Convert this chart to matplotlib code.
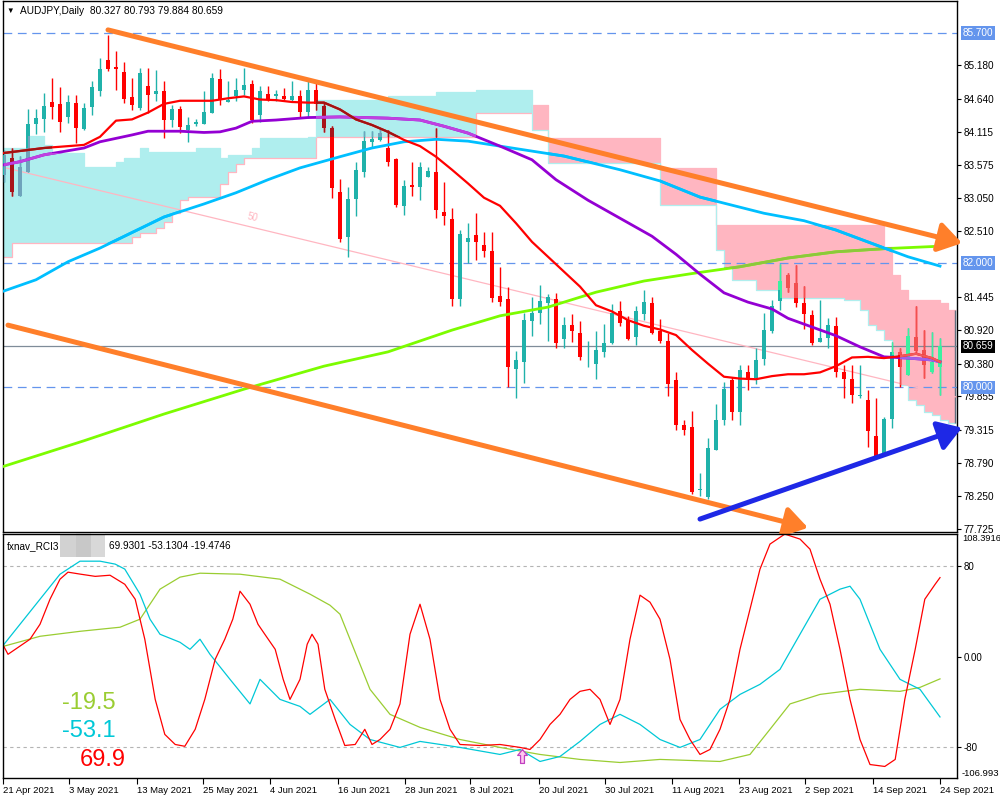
import numpy as np
import matplotlib
matplotlib.use("Agg")
import matplotlib.pyplot as plt
import matplotlib.transforms as mtransforms
from matplotlib.path import Path

plt.rcParams["font.family"] = ["Liberation Sans", "DejaVu Sans"]

# ---- daily AUDJPY candles ----
opens = [83.42, 83.69, 83.08, 83.47, 84.24, 84.31, 84.59, 84.56, 84.35, 84.57,
         84.16, 84.51, 84.77, 85.27, 85.15, 85.07, 84.67, 84.50, 84.85, 84.72,
         84.77, 84.30, 84.48, 84.14, 84.23, 84.24, 84.41, 84.96, 84.59, 84.68,
         84.78, 84.88, 84.38, 84.72, 84.69, 84.69, 84.62, 84.69, 84.43, 84.79,
         84.53, 84.17, 83.14, 82.42, 83.03, 83.47, 83.95, 83.98, 83.85, 83.67,
         82.92, 83.25, 83.23, 83.39, 83.46, 82.82, 82.71, 81.42, 82.33, 82.45,
         82.29, 82.19, 81.47, 81.42, 80.29, 80.41, 81.07, 81.19, 81.35, 81.42,
         80.77, 81.00, 80.88, 80.40, 80.38, 80.56, 80.72, 81.23, 81.09, 80.81,
         81.18, 81.36, 80.91, 80.75, 80.12, 79.39, 79.36, 78.35, 78.23, 78.99,
         79.47, 80.11, 79.61, 80.25, 80.15, 80.45, 80.91, 81.39, 81.81, 81.67,
         81.35, 81.16, 80.73, 80.80, 80.99, 80.25, 80.14, 79.86, 79.80, 79.22,
         78.95, 79.49, 80.57, 80.20, 80.81, 80.60, 80.25, 80.327]
highs = [83.82, 83.85, 83.72, 84.48, 84.48, 84.74, 84.98, 84.83, 84.71, 84.71,
         84.57, 84.92, 85.29, 85.67, 85.41, 85.23, 84.98, 85.14, 85.14, 85.11,
         84.93, 84.54, 84.53, 84.35, 84.32, 84.77, 85.05, 85.12, 84.92, 84.98,
         85.13, 84.94, 84.84, 84.84, 84.79, 84.82, 84.93, 84.79, 84.93, 84.89,
         84.58, 84.20, 83.35, 83.22, 83.63, 84.13, 84.13, 84.15, 84.14, 83.69,
         83.34, 83.62, 83.62, 83.55, 84.17, 83.31, 82.89, 82.53, 82.65, 82.80,
         82.50, 82.50, 81.94, 81.61, 80.58, 81.19, 81.45, 81.65, 81.50, 81.52,
         81.13, 81.18, 81.07, 80.74, 80.91, 81.02, 81.34, 81.39, 81.14, 81.31,
         81.57, 81.45, 81.10, 80.88, 80.24, 79.47, 79.62, 78.62, 79.18, 79.73,
         80.09, 80.17, 80.36, 80.36, 80.63, 81.20, 81.40, 81.99, 81.84, 81.97,
         81.63, 81.25, 81.40, 81.11, 81.13, 80.36, 80.36, 80.36, 79.96, 79.82,
         79.53, 80.73, 80.63, 80.96, 81.30, 80.92, 80.89, 80.793]
lows = [83.30, 83.07, 83.07, 83.46, 84.08, 84.10, 84.31, 84.10, 84.25, 83.93,
        84.14, 84.38, 84.69, 85.09, 84.78, 84.57, 84.46, 84.46, 84.42, 84.61,
        84.01, 84.19, 84.09, 83.94, 84.20, 84.24, 84.41, 84.54, 84.59, 84.60,
        84.70, 84.25, 84.27, 84.60, 84.60, 84.62, 84.60, 84.34, 84.34, 84.46,
        84.11, 83.04, 82.33, 82.10, 82.76, 83.39, 83.85, 83.96, 83.56, 82.90,
        82.77, 83.08, 83.01, 83.39, 82.73, 82.61, 81.30, 81.31, 82.00, 82.05,
        82.10, 81.38, 81.31, 80.01, 79.82, 80.07, 80.83, 81.02, 80.75, 80.63,
        80.63, 80.73, 80.44, 80.32, 80.14, 80.49, 80.70, 80.99, 80.76, 80.68,
        81.09, 80.86, 80.72, 79.86, 79.32, 79.23, 78.28, 78.25, 78.21, 78.99,
        79.39, 79.47, 79.39, 79.96, 80.06, 80.36, 80.87, 81.24, 81.54, 81.29,
        80.93, 80.68, 80.73, 80.63, 80.17, 79.82, 79.74, 79.82, 79.04, 78.88,
        78.94, 79.34, 80.01, 80.20, 80.55, 80.15, 80.23, 79.884]
closes = [83.74, 83.14, 83.55, 84.24, 84.33, 84.53, 84.51, 84.27, 84.59, 84.17,
          84.49, 84.83, 85.12, 85.12, 85.12, 84.64, 84.54, 85.06, 84.70, 84.77,
          84.30, 84.48, 84.19, 84.22, 84.27, 84.43, 84.98, 84.63, 84.63, 84.79,
          84.86, 84.30, 84.77, 84.62, 84.72, 84.64, 84.69, 84.43, 84.79, 84.56,
          84.17, 83.21, 82.39, 83.03, 83.50, 83.96, 83.99, 84.09, 83.63, 82.93,
          83.24, 83.23, 83.54, 83.48, 82.85, 82.75, 81.42, 82.47, 82.41, 82.33,
          82.20, 81.44, 81.38, 80.32, 80.44, 81.08, 81.19, 81.39, 81.45, 80.72,
          81.00, 80.91, 80.49, 80.41, 80.60, 80.72, 81.20, 81.04, 80.78, 81.23,
          81.37, 80.88, 80.75, 80.05, 79.39, 79.31, 78.31, 78.37, 79.02, 79.47,
          79.97, 79.61, 80.28, 80.12, 80.44, 80.92, 81.31, 81.71, 81.60, 81.36,
          81.18, 80.72, 80.79, 81.00, 80.24, 80.14, 79.88, 79.88, 79.29, 78.90,
          79.49, 80.57, 80.33, 80.83, 80.59, 80.36, 80.40, 80.659]

date_labels = ["21 Apr 2021", "3 May 2021", "13 May 2021", "25 May 2021", "4 Jun 2021",
               "16 Jun 2021", "28 Jun 2021", "8 Jul 2021", "20 Jul 2021", "30 Jul 2021",
               "11 Aug 2021", "23 Aug 2021", "2 Sep 2021", "14 Sep 2021", "24 Sep 2021"]
date_pos = [-0.1, 8.1, 16.6, 24.9, 33.25, 41.75, 50.1, 58.25, 66.9, 75.1,
            83.5, 91.9, 100.1, 108.6, 117.0]

# ---- moving averages (bar index, price) ----
ma_red_x = [0, 5, 10, 12, 14, 16, 18, 20, 22, 26, 28, 30, 32, 34, 36, 38, 40, 42, 44, 46,
            48, 50, 52, 54, 56, 58, 60, 62, 64, 66, 68, 70, 72, 74, 76, 78, 80, 82, 84, 86,
            88, 90, 92, 94, 96, 98, 100, 102, 104, 106, 108, 110, 112, 114, 116, 117]
ma_red = [83.77, 83.85, 83.90, 84.03, 84.29, 84.31, 84.42, 84.56, 84.61, 84.61,
          84.65, 84.68, 84.63, 84.62, 84.59, 84.58, 84.58, 84.47, 84.31, 84.22,
          84.11, 83.98, 83.88, 83.71, 83.50, 83.28, 83.05, 82.92, 82.64, 82.34,
          82.10, 81.86, 81.62, 81.32, 81.22, 81.08, 80.99, 80.93, 80.84, 80.60,
          80.38, 80.17, 80.14, 80.13, 80.18, 80.21, 80.21, 80.24, 80.34, 80.48,
          80.49, 80.47, 80.50, 80.54, 80.47, 80.41]
ma_purple_x = [0, 2, 5, 10, 12, 16, 18, 22, 25, 27, 29, 31, 34, 38, 42, 48, 52, 55, 58, 62,
               66, 69, 73, 77, 81, 84, 87, 90, 93, 96, 98, 101, 104, 107, 110, 113, 116, 117]
ma_purple = [83.58, 83.63, 83.74, 83.85, 83.95, 84.06, 84.12, 84.12, 84.10, 84.11,
             84.17, 84.28, 84.30, 84.34, 84.35, 84.33, 84.30, 84.20, 84.09, 83.88,
             83.66, 83.34, 83.01, 82.72, 82.43, 82.14, 81.82, 81.52, 81.37, 81.26,
             81.11, 80.97, 80.83, 80.65, 80.49, 80.47, 80.44, 80.41]
ma_blue_x = [0, 4, 8, 12, 16, 20, 25, 29, 33, 37, 42, 46, 50, 54, 58, 62, 70, 77, 82, 87,
             95, 100, 104, 109, 113, 117]
ma_blue = [81.55, 81.73, 82.02, 82.24, 82.49, 82.74, 82.95, 83.13, 83.34, 83.53,
           83.71, 83.85, 83.95, 83.99, 83.96, 83.88, 83.72, 83.50, 83.32, 83.06,
           82.80, 82.68, 82.53, 82.29, 82.10, 81.95]
ma_green_x = [0, 10, 20, 30, 40, 48, 56, 62, 68, 74, 80, 86, 92, 98, 104, 110, 117]
ma_green = [78.73, 79.14, 79.57, 79.97, 80.34, 80.57, 80.92, 81.15, 81.29, 81.53,
            81.71, 81.83, 81.94, 82.08, 82.18, 82.23, 82.27]

# ---- ichimoku cloud: step start index, span A, span B ----
cloud_x = [0, 1, 3, 5, 6, 10, 14, 15, 16, 17, 18, 19, 20, 21, 22, 23, 24, 27, 28, 29,
           30, 31, 32, 38, 39, 48, 54, 59, 66, 68, 82, 89, 90, 91, 94, 97, 105, 107, 108, 109,
           110, 111, 112, 113, 114, 115, 116, 117, 118, 118.9]
span_a = [83.85, 83.85, 84.04, 83.90, 83.77, 83.54, 83.62, 83.69, 83.69, 83.85,
          83.79, 83.79, 83.79, 83.79, 83.79, 83.79, 83.85, 83.69, 83.74, 83.74,
          83.74, 83.85, 84.01, 84.03, 84.62, 84.68, 84.75, 84.78, 84.14, 83.61,
          82.93, 82.21, 81.92, 81.73, 81.57, 81.44, 81.40, 81.24, 81.00, 80.92,
          80.76, 80.52, 80.04, 79.80, 79.72, 79.60, 79.55, 79.47, 79.43, 79.43]
span_b = [82.10, 82.32, 82.32, 82.32, 82.32, 82.32, 82.32, 82.32, 82.42, 82.48,
          82.48, 82.56, 82.66, 82.80, 83.01, 83.06, 83.06, 83.27, 83.46, 83.59,
          83.69, 83.69, 83.69, 83.69, 84.03, 84.03, 84.03, 84.41, 84.54, 84.01,
          83.53, 82.61, 82.61, 82.61, 82.61, 82.61, 82.61, 82.61, 82.61, 82.61,
          82.26, 81.81, 81.57, 81.40, 81.40, 81.40, 81.40, 81.36, 81.24, 81.24]

# ---- hand drawn objects (bar index, price) ----
trend_upper = [(13.0, 85.75), (119.75, 82.32)]
trend_lower = [(0.5, 81.00), (100.5, 77.74)]
trend_blue = [(87.0, 77.88), (119.75, 79.35)]
fan_line = [(-0.1, 83.54), (119.5, 79.83)]
level_lines = [85.70, 82.00, 80.00]
bid = 80.659
price_ticks = [85.180, 84.640, 84.115, 83.575, 83.050, 82.510, 81.445, 80.920,
               80.380, 79.855, 79.315, 78.790, 78.250, 77.725]

# ---- RCI (bar index, value) ----
rci_red_x = [-0.5, 0.5, 3.25, 4.5, 5.75, 7, 8, 9.5, 11.4, 13.25, 15.1, 16.4, 17.6, 18.9,
             20.1, 21.4, 22.6, 23.9, 25.1, 26.4, 27.6, 28.6, 29.5, 30.75, 31.75, 32.6,
             33.9, 34.9, 35.75, 37, 37.9, 38.5, 39.25, 40.1, 41.4, 42.6, 43.9, 45.1, 46,
             47, 48.25, 49.5, 50.75, 52, 53.25, 54.5, 55.75, 57, 59.5, 62, 64.5, 65.75,
             67, 68.25, 69.5, 70.75, 72, 73.25, 74.5, 75.75, 77, 78.25, 79.5, 80.75, 82,
             83.25, 84.5, 85.75, 87, 88.25, 89.5, 90.75, 92, 93.25, 94.5, 95.75, 97.6,
             99.5, 100.75, 102, 103.25, 104.5, 105.75, 107, 108.25, 110.1, 111.4, 112.6,
             113.9, 115.1, 116.4, 117]
rci_red = [15.5, 2.2, 15.5, 28.7, 50.8, 68.5, 74.7, 73.0, 71.0, 72.0, 64.0, 50.8, 15.5,
           -37.6, -68.5, -77.4, -79.0, -64.0, -37.6, -2.2, 15.5, 33.2, 57.9, 46.4, 28.7,
           19.9, 6.6, -19.9, -37.6, -19.9, 11.1, 19.9, 11.1, -28.7, -55.3, -78.3, -77.4,
           -64.0, -77.4, -73.0, -64.0, -41.6, 19.9, 46.4, 15.5, -37.6, -64.0, -77.4,
           -78.3, -77.4, -80.0, -81.8, -73.0, -59.7, -50.8, -37.6, -30.5, -28.7, -37.6,
           -59.7, -37.6, 15.5, 54.4, 48.2, 33.2, -2.2, -55.3, -73.0, -86.2, -81.8, -64.0,
           -37.6, 6.6, 42.0, 77.4, 99.5, 108.3, 103.9, 95.0, 68.5, 46.4, 6.6, -37.6,
           -73.0, -95.1, -96.8, -90.6, -37.6, 6.6, 50.8, 64.1, 69.9]
rci_cyan_x = [-0.5, 2, 4.5, 7, 9.5, 12, 13.9, 15.1, 17, 18.25, 19.5, 22, 23.25, 24.5,
              25.75, 28.25, 30.75, 32, 34.5, 37, 38.25, 40.75, 43.25, 45.75, 49.5, 52,
              57, 62, 64.5, 67, 69.5, 72, 74.5, 77, 79.5, 82, 84.5, 87, 89.5, 92, 94.5,
              97, 99.5, 102, 104.5, 105.75, 107, 109.5, 112, 114.5, 117]
rci_cyan = [6.6, 28.7, 50.8, 72.9, 84.4, 84.4, 81.8, 77.4, 55.3, 33.2, 19.9, 12.8, 6.6,
            15.5, 2.2, -19.9, -41.6, -19.9, -37.6, -43.8, -50.8, -37.6, -59.7, -73.0,
            -80.0, -74.7, -80.0, -86.2, -81.8, -92.4, -88.0, -74.7, -59.7, -50.8, -59.7,
            -73.0, -80.0, -73.0, -46.4, -33.2, -24.3, -11.1, 19.9, 50.8, 59.7, 62.3,
            50.8, 6.6, -19.9, -28.7, -53.1]
rci_green_x = [-0.5, 4.5, 9.5, 14.5, 17, 19.5, 22, 24.5, 29.5, 34.5, 38.25, 40.75, 42,
               43.25, 45.75, 48.25, 52, 57, 62, 67, 72, 77, 82, 89.5, 93.25, 95.75, 98.25,
               102, 107, 112, 114.5, 117]
rci_green = [8.4, 18.1, 22.5, 26.1, 33.2, 59.7, 70.3, 73.8, 72.9, 68.5, 55.3, 45.5, 37.6,
             15.5, -28.7, -50.8, -62.3, -73.0, -80.0, -86.2, -90.6, -93.3, -90.6, -92.4,
             -86.2, -64.0, -41.6, -33.2, -28.7, -30.5, -27.0, -19.5]
rci_last = [69.9301, -53.1304, -19.4746]
rci_signal = (64.75, -88.0)

# ---------------------------------------------------------------------------
BAR_PX = 8.0
fig = plt.figure(figsize=(10, 8), dpi=100)
ax = fig.add_axes([0.003, 0.335, 0.954, 0.66375])
axr = fig.add_axes([0.003, 0.0275, 0.954, 0.305])
xlim = (-1 / BAR_PX, 953 / BAR_PX)

n = len(opens)
idx = np.arange(n)
o, h, l, c = map(np.array, (opens, highs, lows, closes))

# cloud: expand steps so that every segment has both its end points
cx = np.array(cloud_x, dtype=float)
xs_f = np.repeat(cx, 2)[1:-1]
sa_f = np.repeat(np.array(span_a)[:-1], 2)
sb_f = np.repeat(np.array(span_b)[:-1], 2)
bull_poly = ax.fill_between(xs_f, sa_f, sb_f, where=sa_f >= sb_f, color="#AFEEEE", lw=0, zorder=1)
bear_poly = ax.fill_between(xs_f, sa_f, sb_f, where=sa_f < sb_f, color="#FFB6C1", lw=0, zorder=1)
ax.plot(xs_f, sb_f, color="#FFB6C1", lw=0.9, zorder=1.2)
ax.plot(xs_f, sa_f, color="#AFEEEE", lw=0.9, zorder=1.2)
ax.vlines(cx[-1], sa_f[-1], sb_f[-1], color="#5F6F7F", lw=1.0, zorder=1.3)
bull_clip = Path.make_compound_path(*bull_poly.get_paths())
bear_clip = Path.make_compound_path(*bear_poly.get_paths())

# level lines
for lv in level_lines:
    ax.axhline(lv, color="#6495ED", lw=0.9, ls=(0, (7, 4.5)), zorder=1.5)
ax.axhline(bid, color="#7F8C99", lw=0.9, zorder=1.5)
ax.plot(*zip(*fan_line), color="#FFB6C1", lw=0.9, zorder=1.6)
ax.text(31.1, 82.74, "50", color="#FFB6C1", fontsize=7, rotation=-13,
        ha="center", va="center", zorder=1.6)


def draw_candles(up_col, dn_col, clip=None, z=3):
    up = c >= o
    cols = [up_col if u else dn_col for u in up]
    wk = ax.vlines(idx, l, h, colors=cols, lw=1.0, zorder=z)
    body_lo = np.minimum(o, c)
    body_h = np.maximum(np.abs(c - o), 0.012)
    bars = ax.bar(idx, body_h, bottom=body_lo, width=0.62, color=cols, lw=0, zorder=z + 0.1)
    if clip is not None:
        wk.set_clip_path(clip, ax.transData)
        for b in bars:
            b.set_clip_path(clip, ax.transData)


# candles, then tinted copies where the cloud covers them
draw_candles("#20B2AA", "#FF0000")
draw_candles("#6FA3BC", "#A8141A", bull_clip, z=3.2)
draw_candles("#3CF0A0", "#F25050", bear_clip, z=3.2)

# moving averages (tinted inside the cloud too)
ma_styles = [(ma_green_x, ma_green, "#7CFC00", "#7CFC00", "#8CC83C", 2.0),
             (ma_blue_x, ma_blue, "#00BFFF", "#00BFFF", "#00BFFF", 2.0),
             (ma_purple_x, ma_purple, "#9400D3", "#C040E0", "#A060E6", 2.0),
             (ma_red_x, ma_red, "#FF0000", "#A01414", "#F05A5A", 1.6)]
for k, (xs, ys, col, col_bull, col_bear, lw) in enumerate(ma_styles):
    ax.plot(xs, ys, color=col, lw=lw, zorder=4 + 0.1 * k)
    ln1, = ax.plot(xs, ys, color=col_bull, lw=lw, zorder=4.05 + 0.1 * k)
    ln1.set_clip_path(bull_clip, ax.transData)
    ln2, = ax.plot(xs, ys, color=col_bear, lw=lw, zorder=4.05 + 0.1 * k)
    ln2.set_clip_path(bear_clip, ax.transData)

# trend lines with arrow heads
for (p0, p1), col in ((trend_upper, "#FF7F2A"), (trend_lower, "#FF7F2A"), (trend_blue, "#1E28E6")):
    ax.annotate("", xy=p1, xytext=p0, annotation_clip=False, zorder=5,
                arrowprops=dict(arrowstyle="-|>,head_length=0.7,head_width=0.45", color=col,
                                lw=3.6, mutation_scale=20, shrinkA=0, shrinkB=0))

ax.set_xlim(*xlim)
ax.set_ylim(77.672, 86.215)
ax.set_xticks([])
ax.yaxis.tick_right()
ax.set_yticks(price_ticks)
ax.set_yticklabels(["%.3f" % t for t in price_ticks])
ax.tick_params(axis="y", length=3, width=0.8, pad=2, labelsize=7.2, direction="out")
for sp in ax.spines.values():
    sp.set_linewidth(1.0)

tr = mtransforms.blended_transform_factory(ax.transAxes, ax.transData)
for lv in level_lines:
    ax.text(1.006, lv, "%.3f" % lv, transform=tr, fontsize=7.2, color="white", va="center",
            ha="left", bbox=dict(boxstyle="square,pad=0.18", fc="#6495ED", ec="none"), clip_on=False)
ax.text(1.006, bid, "%.3f" % bid, transform=tr, fontsize=7.2, color="white", va="center",
        ha="left", bbox=dict(boxstyle="square,pad=0.18", fc="black", ec="none"), clip_on=False)

ax.text(0.004, 0.981, "\u25BC", transform=ax.transAxes, fontsize=5.5, va="center", ha="left")
ax.text(0.018, 0.981, "AUDJPY,Daily  %.3f %.3f %.3f %.3f" % (opens[-1], highs[-1], lows[-1], closes[-1]),
        transform=ax.transAxes, fontsize=7.3, va="center", ha="left")

# ---- RCI panel ----
axr.axhline(80, color="#B4B4B4", lw=0.8, ls=(0, (3, 3)))
axr.axhline(-80, color="#B4B4B4", lw=0.8, ls=(0, (3, 3)))
axr.plot(rci_green_x, rci_green, color="#9ACD32", lw=0.9)
axr.plot(rci_cyan_x, rci_cyan, color="#00C8D7", lw=0.9)
axr.plot(rci_red_x, rci_red, color="#FF0000", lw=0.9)
up_arrow = Path([(0, 1), (0.7, 0.15), (0.28, 0.15), (0.28, -1), (-0.28, -1), (-0.28, 0.15),
                 (-0.7, 0.15), (0, 1)])
axr.plot(*rci_signal, marker=up_arrow, ms=10, mfc="#FFC8F0", mec="#C040C0", mew=0.9, zorder=5)

axr.set_xlim(*xlim)
axr.set_ylim(-106.993, 108.3916)
axr.yaxis.tick_right()
axr.set_yticks([80, 0, -80])
axr.set_yticklabels(["80", "0.00", "-80"])
axr.tick_params(axis="y", length=3, width=0.8, pad=2, labelsize=7.0, direction="out")
trr = mtransforms.blended_transform_factory(axr.transAxes, axr.transData)
axr.text(1.005, 108.3916, "108.3916", transform=trr, fontsize=6.7, va="top", ha="left", clip_on=False)
axr.text(1.005, -106.993, "-106.993", transform=trr, fontsize=6.8, va="bottom", ha="left", clip_on=False)
axr.set_xticks(date_pos)
axr.set_xticklabels(date_labels, ha="left")
axr.tick_params(axis="x", length=4, width=0.8, pad=2, labelsize=6.8, direction="out")
for sp in axr.spines.values():
    sp.set_linewidth(1.0)

axr.text(0.004, 0.95, "fxnav_RCI3", transform=axr.transAxes, fontsize=7.2, va="center", ha="left")
for x0, w, g in ((0.060, 0.016, "#D2D2D2"), (0.076, 0.016, "#C8C8C8"), (0.092, 0.015, "#D8D8D8")):
    axr.add_patch(plt.Rectangle((x0, 0.905), w, 0.1, transform=axr.transAxes, fc=g, ec="none", clip_on=False))
axr.text(0.111, 0.95, "%.4f %.4f %.4f" % tuple(rci_last), transform=axr.transAxes,
         fontsize=7.2, va="center", ha="left")

axr.text(0.062, 0.307, "%.1f" % rci_last[2], transform=axr.transAxes, fontsize=17,
         color="#9ACD32", va="center", ha="left")
axr.text(0.062, 0.193, "%.1f" % rci_last[1], transform=axr.transAxes, fontsize=17,
         color="#00C8D7", va="center", ha="left")
axr.text(0.080, 0.074, "%.1f" % rci_last[0], transform=axr.transAxes, fontsize=17,
         color="#FF0000", va="center", ha="left")

fig.savefig("out.png", dpi=100, facecolor="white")
